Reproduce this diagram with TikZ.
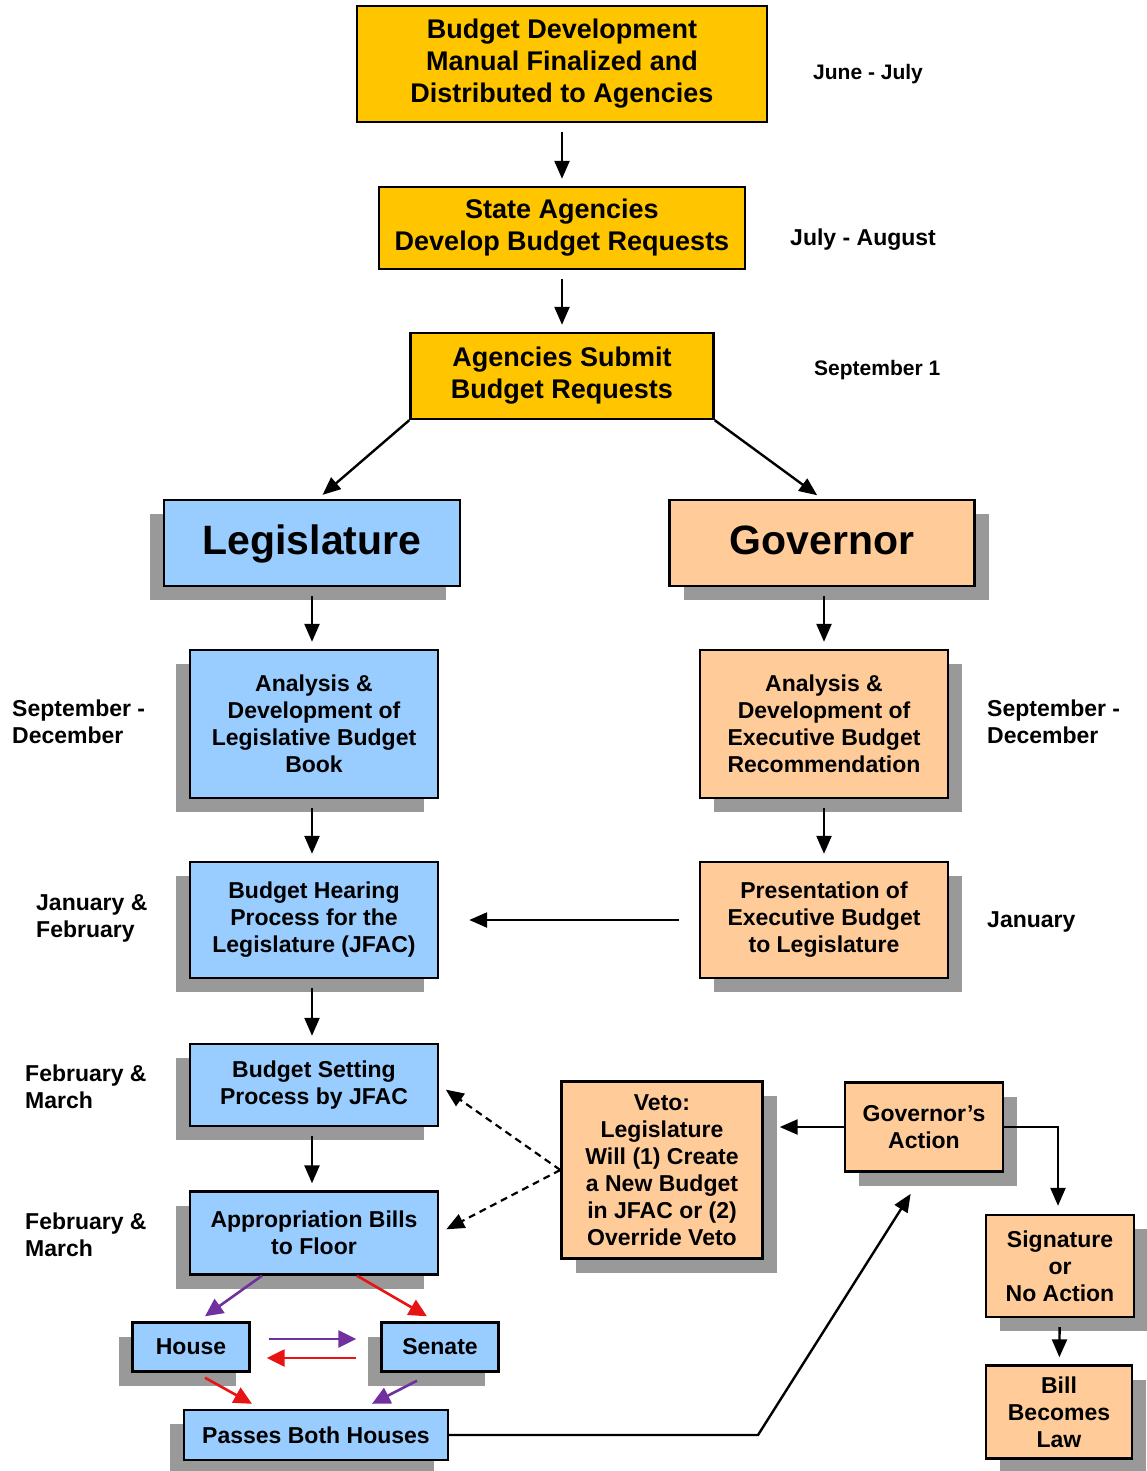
\documentclass[tikz,border=0pt]{standalone}
\usepackage{fontspec}
\setmainfont{Liberation Sans}
\usetikzlibrary{positioning,shadows,arrows.meta}
\definecolor{gold}{RGB}{255,198,0}
\definecolor{legblue}{RGB}{153,204,255}
\definecolor{govorange}{RGB}{255,204,153}
\definecolor{shadowgray}{RGB}{153,153,153}
\definecolor{billpurple}{RGB}{112,48,160}
\definecolor{billred}{RGB}{232,20,20}
\tikzset{%
  stepnode/.style={rectangle, draw=black, line width=2.4pt, inner sep=0pt, align=center, font=\bfseries\fontsize{23}{27}\selectfont},
  % -------------------
  % first three steps
  % -------------------
  agencyStep/.style={stepnode, fill=gold, font=\bfseries\fontsize{27}{32}\selectfont},
  % ----------------------------------
  % legislature side, shadow on the left
  % ----------------------------------
  legStep/.style={stepnode, fill=legblue, drop shadow={shadow xshift=-14pt, shadow yshift=-14pt, fill=shadowgray, opacity=1}},
  % ----------------------------------
  % governor side, shadow on the right
  % ----------------------------------
  govStep/.style={stepnode, fill=govorange, drop shadow={shadow xshift=14pt, shadow yshift=-14pt, fill=shadowgray, opacity=1}},
  branch/.style={font=\bfseries\fontsize{41}{48}\selectfont, text height=30pt, text depth=8pt},
  month/.style={anchor=west, align=left, inner sep=0pt, font=\bfseries\fontsize{23}{27}\selectfont},
  monthSmall/.style={month, font=\bfseries\fontsize{21}{25}\selectfont},
  %
  flow/.style={-{Triangle[length=18pt,width=15pt]}, line width=2.4pt},
  gap/.style={shorten <=9pt, shorten >=7pt},
  vetoflow/.style={flow, dash pattern=on 7pt off 5pt, line width=2.2pt},
  purpleflow/.style={flow, draw=billpurple, line width=2.6pt, -{Triangle[length=18pt,width=17pt]}},
  redflow/.style={flow, draw=billred, line width=2.6pt, -{Triangle[length=18pt,width=17pt]}}
}
\begin{document}
\begin{tikzpicture}[x=1pt, y=-1pt]
        \useasboundingbox (0,0) rectangle (1146,1471);

        %Nodes
        \node[agencyStep, minimum width=410pt, minimum height=116pt] (manual) at (562,64) {Budget Development\\Manual Finalized and\\Distributed to Agencies};
        \node[agencyStep, minimum width=366pt, minimum height=82pt] (develop) at (562,228) {State Agencies\\Develop Budget Requests};
        \node[agencyStep, minimum width=303pt, minimum height=86pt] (submit) at (562,376) {Agencies Submit\\Budget Requests};

        \node[legStep, branch, minimum width=296pt, minimum height=86pt] (leg) at (312,543) {Legislature};
        \node[govStep, branch, minimum width=305pt, minimum height=86pt] (gov) at (822,543) {Governor};

        \node[legStep, minimum width=248pt, minimum height=148pt] (legAnalysis) at (314,724) {Analysis \&\\Development of\\Legislative Budget\\Book};
        \node[legStep, minimum width=248pt, minimum height=116pt] (hearing) at (314,920) {Budget Hearing\\Process for the\\Legislature (JFAC)};
        \node[legStep, minimum width=248pt, minimum height=82pt] (setting) at (314,1085) {Budget Setting\\Process by JFAC};
        \node[legStep, minimum width=248pt, minimum height=83pt] (approp) at (314,1233) {Appropriation Bills\\to Floor};
        \node[legStep, minimum width=117pt, minimum height=49pt] (house) at (191,1347) {House};
        \node[legStep, minimum width=117pt, minimum height=49pt] (senate) at (440,1347) {Senate};
        \node[legStep, minimum width=264pt, minimum height=50pt] (passes) at (316,1435) {Passes Both Houses};

        \node[govStep, minimum width=248pt, minimum height=148pt] (govAnalysis) at (824,724) {Analysis \&\\Development of\\Executive Budget\\Recommendation};
        \node[govStep, minimum width=248pt, minimum height=116pt] (presentation) at (824,920) {Presentation of\\Executive Budget\\to Legislature};
        \node[govStep, minimum width=201pt, minimum height=177pt] (veto) at (662,1170) {Veto:\\Legislature\\Will (1) Create\\a New Budget\\in JFAC or (2)\\Override Veto};
        \node[govStep, minimum width=158pt, minimum height=89pt] (govAction) at (924,1127) {Governor's\\Action};
        \node[govStep, minimum width=148pt, minimum height=102pt] (signature) at (1060,1266) {Signature\\or\\No Action};
        \node[govStep, minimum width=146pt, minimum height=93pt] (law) at (1059,1412) {Bill\\Becomes\\Law};

        \node[monthSmall] (juneJuly) at (813,74) {June - July};
        \node[month] (julyAug) at (790,240) {July - August};
        \node[monthSmall] (sept1) at (814,370) {September 1};
        \node[month] (legSepDec) at (12,722) {September -\\December};
        \node[month] (janFeb) at (36,918) {January \&\\February};
        \node[month] (febMar1) at (25,1087) {February \&\\March};
        \node[month] (febMar2) at (25,1235) {February \&\\March};
        \node[month] (govSepDec) at (987,722) {September -\\December};
        \node[month] (jan) at (987,922) {January};

        \coordinate (bend) at (758,1435);

        %Lines
        \draw[flow, gap] (manual) -- (develop);
        \draw[flow, gap] (develop) -- (submit);
        \draw[flow, shorten >=6pt] (submit.south west) -- ([xshift=6pt]leg.north);
        \draw[flow, shorten >=6pt] (submit.south east) -- (gov.north);
        \draw[flow, gap] (leg.south) -- (leg.south |- legAnalysis.north);
        \draw[flow, gap] (leg.south |- legAnalysis.south) -- (leg.south |- hearing.north);
        \draw[flow, gap] (leg.south |- hearing.south) -- (leg.south |- setting.north);
        \draw[flow, gap] (leg.south |- setting.south) -- (leg.south |- approp.north);
        \draw[flow, gap] ([xshift=2pt]gov.south) -- ([xshift=2pt]gov.south |- govAnalysis.north);
        \draw[flow, gap] (govAnalysis) -- (presentation);
        \draw[flow, shorten <=20pt, shorten >=30pt] (presentation) -- (hearing);

        \draw[vetoflow, shorten >=8pt] (veto.west) -- (setting.east);
        \draw[vetoflow, shorten >=8pt] (veto.west) -- (approp.east);
        \draw[flow, shorten >=16pt] (govAction.west) -- (govAction.west -| veto.east);
        \draw[flow, shorten >=8pt] (govAction.east) -| ([xshift=-2pt]signature.north);
        \draw[flow, gap] (signature) -- (law);
        \draw[flow, shorten >=25pt] (passes.east) -- (bend) -- (govAction.south);

        \draw[purpleflow] ([xshift=-52pt]approp.south) -- ([xshift=14pt,yshift=5pt]house.north);
        \draw[redflow] ([xshift=43pt]approp.south) -- ([xshift=-13pt,yshift=5pt]senate.north);
        \draw[purpleflow, shorten <=18pt, shorten >=24pt] ([yshift=8pt]house.east) -- ([yshift=8pt]senate.west);
        \draw[redflow, shorten <=24pt, shorten >=16pt] ([yshift=-11pt]senate.west) -- ([yshift=-11pt]house.east);
        \draw[redflow] ([xshift=14pt,yshift=-5pt]house.south) -- ([xshift=-64pt,yshift=5pt]passes.north);
        \draw[purpleflow] ([xshift=-23pt,yshift=-8pt]senate.south) -- ([xshift=56pt,yshift=5pt]passes.north);
\end{tikzpicture}
\end{document}
